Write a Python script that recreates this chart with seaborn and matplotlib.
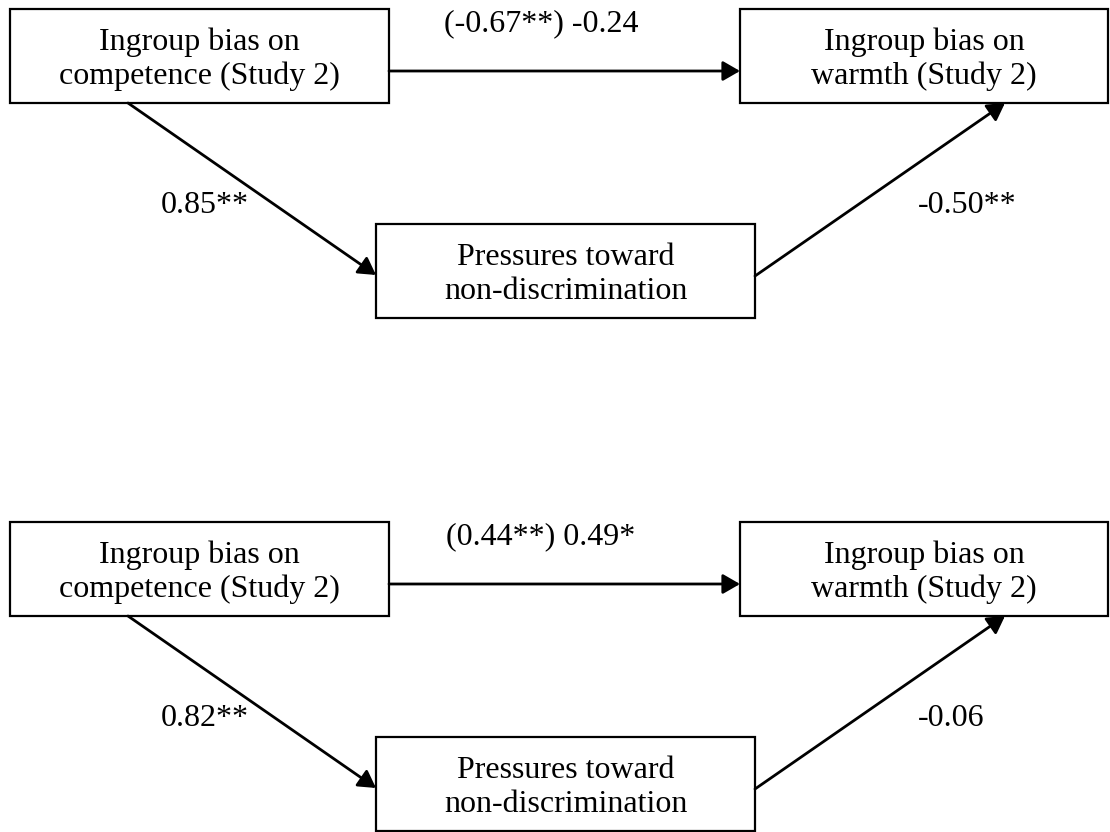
import matplotlib
matplotlib.use("Agg")
import matplotlib.pyplot as plt
from matplotlib.patches import Rectangle
import seaborn as sns

# node texts (predictor, mediator, outcome)
predictor_lines = ["Ingroup bias on", "competence (Study 2)"]
mediator_lines = ["Pressures toward", "non-discrimination"]
outcome_lines = ["Ingroup bias on", "warmth (Study 2)"]

# path coefficients, one entry per panel (top, bottom)
path_a = ["0.85**", "0.82**"]
path_b = ["-0.50**", "-0.06"]
path_c = ["(-0.67**) -0.24", "(0.44**) 0.49*"]

sns.set_theme(style="white")
plt.rcParams['font.family'] = ['Liberation Serif', 'DejaVu Serif']
plt.rcParams['text.color'] = 'black'

FS = 23
W, H = 1110, 832


def draw_box(ax, x0, y0, x1, y1, lines):
    ax.add_patch(Rectangle((x0, y0), x1 - x0, y1 - y0, fill=False,
                           edgecolor="black", lw=1.6))
    cx = (x0 + x1) / 2
    cy = (y0 + y1) / 2
    # two lines, baseline gap 34 px, cap height ~22 px
    b1 = (2 * cy + 22 - 34) / 2
    for i, line in enumerate(lines):
        ax.text(cx, b1 + i * 34, line, ha="center", va="baseline",
                fontsize=FS, color="black")


def arrow(ax, p0, p1):
    ax.annotate("", xy=p1, xytext=p0,
                arrowprops=dict(arrowstyle="-|>,head_length=0.52,head_width=0.3",
                                mutation_scale=20, lw=2.0, color="black",
                                shrinkA=0, shrinkB=0))


fig = plt.figure(figsize=(W / 100, H / 100), dpi=100)
ax = fig.add_axes([0, 0, 1, 1])
ax.set_xlim(0, W)
ax.set_ylim(H, 0)
ax.axis("off")

for k in range(2):
    dy = 513 * k
    # boxes
    draw_box(ax, 10, 9 + dy, 389, 103 + dy, predictor_lines)
    draw_box(ax, 740, 9 + dy, 1108, 103 + dy, outcome_lines)
    draw_box(ax, 376, 224 + dy, 755, 318 + dy, mediator_lines)

    # paths
    arrow(ax, (389, 71 + dy), (740, 71 + dy))
    arrow(ax, (128, 103 + dy), (376, 275 + dy))
    arrow(ax, (755, 276 + dy), (1005, 103 + dy))

    # coefficients
    ax.text(541, 31 + dy, path_c[k], ha="center", va="baseline", fontsize=FS, color="black")
    ax.text(161, 213 + dy, path_a[k], ha="left", va="baseline", fontsize=FS, color="black")
    ax.text(918, 213 + dy, path_b[k], ha="left", va="baseline", fontsize=FS, color="black")

fig.savefig("out.png", dpi=100, facecolor="white")
